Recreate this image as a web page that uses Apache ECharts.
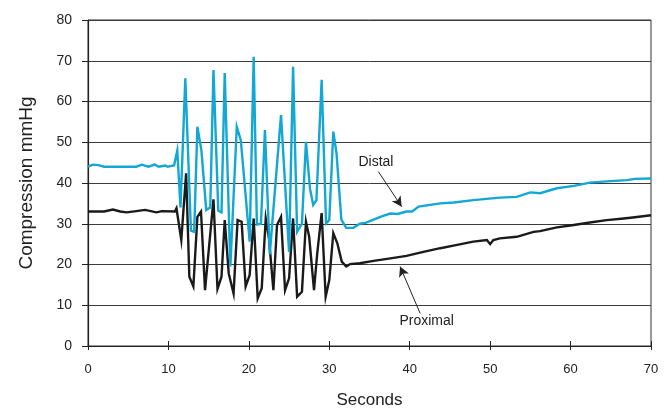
<!DOCTYPE html>
<html>
<head>
<meta charset="utf-8">
<script src="https://cdn.jsdelivr.net/npm/echarts@6/dist/echarts.min.js"></script>
<style>
html,body{margin:0;padding:0;background:#fff;}
#chart{width:670px;height:409px;}
</style>
</head>
<body>
<div id="chart"></div>
<script>
// Time (seconds) and compression (mmHg) samples
var distalT = [0,0.6,1.3,2,4,6,6.7,7.5,8.3,8.8,9.6,9.9,10.4,10.7,11.1,11.5,12.1,12.8,13.2,13.6,14.1,14.7,15.2,15.6,16.2,16.6,17.0,17.7,18.5,19.0,20.1,20.6,21.0,21.5,22.0,22.6,24.0,25.0,25.5,26.0,26.6,27.1,27.6,28.0,28.4,29.05,29.6,30.0,30.5,30.9,31.5,32.1,33.0,33.8,34.5,35.5,36.5,37.6,38.5,39.6,40.3,41.1,43.8,45.5,47.9,51.2,53.3,55.0,56.2,58.3,60.4,62.4,64.5,67.0,68,70];
var distalV = [44,44.5,44.4,44,44,44,44.5,44,44.5,44,44.3,44,44.2,44.3,48,34,65.7,28.3,28,53.8,48,33.4,34,67.7,33.2,32.8,67,19.5,53.8,50.5,25.6,71,29.8,30,53,22.5,56.7,23.1,68.5,28,30,50.1,38.6,34.6,35.8,65.3,30.1,30.9,52.6,47.3,31,29,29,30,30.2,31,31.8,32.5,32.4,33,33,34.2,35,35.2,35.8,36.4,36.6,37.7,37.5,38.7,39.3,40.1,40.4,40.7,41,41.1];
var proximalT = [0,2,3.1,4,4.8,6,7.1,8.5,9.2,10.8,11.0,11.6,12.2,12.6,13.1,13.6,14.05,14.55,15.6,16.1,16.6,17.0,17.5,18.1,18.6,19.1,19.6,20.1,20.6,21.1,21.6,22.1,22.5,23.05,23.5,24.0,24.5,25.0,25.5,26.0,26.6,27.1,27.5,28.1,28.5,29.05,29.55,30.0,30.5,31.0,31.55,32.1,32.6,33.8,35.5,37.6,39.6,41.7,43.8,45.9,47.9,49.6,50.0,50.4,51.2,53.3,55.4,56.2,58.3,60.4,62.4,64.5,66.6,68,70];
var proximalV = [33,33,33.5,33,32.8,33.1,33.4,32.8,33.1,33,33.8,26,42.4,17,14.6,31.7,33,13.7,36,14,17,30.9,17.8,12.9,30.9,30.5,14.6,17.4,31.3,11.7,14.2,31.3,26.4,13.7,29.7,31.7,13.7,16.6,31.3,12.1,13.3,30.5,26.8,13.7,22.7,32.6,12.1,16.2,27.7,25.2,20.7,19.5,20.1,20.3,20.9,21.5,22.1,23.1,24,24.8,25.6,26,25,26,26.4,26.8,28,28.2,29.1,29.7,30.3,30.9,31.3,31.6,32.1];
var xTicks = [0,10,20,30,40,50,60,70];
var yTicks = [0,10,20,30,40,50,60,70,80];
var labelDistal = {text:'Distal', at:[35.8,45.0], arrowFrom:[36.1,42.8], arrowTo:[39.0,34.2]};
var labelProximal = {text:'Proximal', at:[42.1,6.1], arrowFrom:[41.3,8.0], arrowTo:[38.8,19.5]};

function pairs(t, v){ return t.map(function(x,i){ return [x, v[i]]; }); }

var font = 'Liberation Sans, Arial, sans-serif';
var chart = echarts.init(document.getElementById('chart'), null, {renderer:'canvas'});
chart.setOption({
  animation:false,
  backgroundColor:'#fff',
  grid:{left:88,right:19,top:20,bottom:63,containLabel:false,outerBoundsMode:'none',show:true,borderColor:'#333',borderWidth:1,backgroundColor:'transparent'},
  xAxis:[{
    type:'value',min:xTicks[0],max:xTicks[xTicks.length-1],interval:10,
    name:'Seconds',nameLocation:'middle',nameGap:46,
    nameTextStyle:{fontFamily:font,fontSize:17,color:'#222'},
    axisLine:{show:true,lineStyle:{color:'#222',width:1.2}},
    axisTick:{show:true,inside:false,length:4,lineStyle:{color:'#222'}},
    axisLabel:{fontFamily:font,fontSize:13,color:'#222',margin:17},
    splitLine:{show:false}
  },{
    type:'value',min:xTicks[0],max:xTicks[xTicks.length-1],interval:10,position:'bottom',
    axisLine:{show:false},
    axisTick:{show:true,inside:true,length:5,lineStyle:{color:'#222'}},
    axisLabel:{show:false},splitLine:{show:false}
  }],
  yAxis:{
    type:'value',min:yTicks[0],max:yTicks[yTicks.length-1],interval:10,
    name:'Compression mmHg',nameLocation:'middle',nameGap:52,
    nameTextStyle:{fontFamily:font,fontSize:19,color:'#222'},
    axisLine:{show:true,lineStyle:{color:'#222',width:1.2}},
    axisTick:{show:true,inside:false,length:6,lineStyle:{color:'#222'}},
    axisLabel:{fontFamily:font,fontSize:14,color:'#222',margin:16},
    splitLine:{show:true,lineStyle:{color:'#3c3c3c',width:1}}
  },
  series:[{
    name:'Distal',type:'line',data:pairs(distalT,distalV),showSymbol:false,symbol:'none',
    lineStyle:{color:'#12a7d4',width:2.4,join:'miter'},z:3,
    markLine:{silent:true,symbol:['none','arrow'],symbolSize:[8,10],
      lineStyle:{color:'#222',width:1,type:'solid'},label:{show:false},
      data:[[{coord:labelDistal.arrowFrom},{coord:labelDistal.arrowTo}],[{coord:labelProximal.arrowFrom},{coord:labelProximal.arrowTo}]]},
    markPoint:{silent:true,symbol:'circle',symbolSize:0,
      label:{show:true,fontFamily:font,fontSize:14,color:'#222',position:'inside'},
      data:[{coord:labelDistal.at,value:labelDistal.text,label:{formatter:labelDistal.text}},
            {coord:labelProximal.at,value:labelProximal.text,label:{formatter:labelProximal.text}}]}
  },{
    name:'Proximal',type:'line',data:pairs(proximalT,proximalV),showSymbol:false,symbol:'none',
    lineStyle:{color:'#1a1a1a',width:2.4,join:'miter'},z:2
  }]
});
</script>
</body>
</html>
